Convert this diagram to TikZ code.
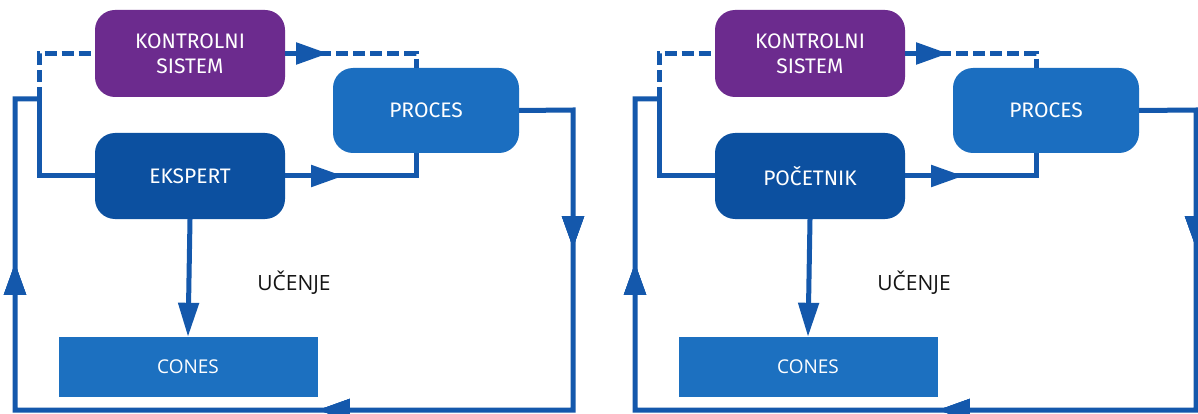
\documentclass[tikz,border=0pt]{standalone}
\usepackage{fontspec}
\setmainfont{Open Sans}
\newfontfamily\boxfont{Fira Sans}
\usetikzlibrary{arrows.meta,decorations.markings,calc}
\definecolor{kpurple}{RGB}{108,43,142}
\definecolor{kdark}{RGB}{12,80,160}
\definecolor{kproc}{RGB}{27,110,192}
\definecolor{kcones}{RGB}{28,112,192}
\definecolor{kline}{RGB}{20,88,172}
\definecolor{ktext}{RGB}{20,20,20}
\tikzset{
  rbox/.style={rounded corners=20pt, minimum width=190pt, minimum height=87pt, text=white,
    font=\boxfont\fontsize{21}{25}\selectfont, align=center, inner sep=0pt},
  sqbox/.style={fill=kcones, minimum width=259pt, minimum height=60pt, text=white,
    font=\fontsize{19}{22}\selectfont, inner sep=0pt},
  lbl/.style={text=ktext, font=\fontsize{21}{24}\selectfont, inner sep=0pt},
  conn/.style={line width=5pt, draw=kline, line join=miter},
  dsh/.style={conn, dash pattern=on 12pt off 5pt},
  tip/.style={decoration={markings, mark=at position #1 with {\arrow[kline]{Triangle[length=32pt,width=21pt]}}}, postaction=decorate},
  endtip/.style={-{Triangle[length=34pt,width=20pt]}}
}
\begin{document}
\begin{tikzpicture}[x=1pt,y=-1pt]
\useasboundingbox (0,0) rectangle (1198,414);
\fill[white] (0,0) rectangle (1198,414);
\clip (0,0) rectangle (1198,414);
% ---------- left panel ----------
\node[rbox, fill=kpurple] (ks1) at (190,53.5) {KONTROLNI\\SISTEM};
\node[rbox, fill=kproc, minimum width=186pt, minimum height=85pt] (pr1) at (426,110.5) {PROCES};
\node[rbox, fill=kdark, minimum height=86pt] (ek1) at (190,176) {EKSPERT};
\node[sqbox] (cn1) at (188,367) {CONES};
\node[lbl] (uc1) at (294,283) {UČENJE};
\coordinate (pt1) at (416,68);
\coordinate (pb1) at (416,153);
\coordinate (r1) at (573,110);
\coordinate (rb1) at (573,410);
\coordinate (lb1) at (15,410);
\coordinate (lt1) at (15,99);
\coordinate (j1) at (39,99);
\draw[dsh, tip=43pt] (ks1.east) -| (pt1);
\draw[conn, tip=58pt] (ek1.east) -| (pb1);
\draw[conn, tip=192pt, tip=609pt, tip=1059pt] (pr1.east) -- (r1) -- (rb1) -- (lb1) -- (lt1) -- (j1);
\draw[dsh] (j1) |- (ks1.west);
\draw[conn] (j1) |- (ek1.west);
\draw[conn, endtip] (ek1.south) -- (cn1.north);
% ---------- right panel ----------
\node[rbox, fill=kpurple] (ks2) at (810,53.5) {KONTROLNI\\SISTEM};
\node[rbox, fill=kproc, minimum width=186pt, minimum height=85pt] (pr2) at (1046,110.5) {PROCES};
\node[rbox, fill=kdark, minimum height=86pt] (ek2) at (810,176) {POČETNIK};
\node[sqbox] (cn2) at (808,367) {CONES};
\node[lbl] (uc2) at (914,283) {UČENJE};
\coordinate (pt2) at (1036,68);
\coordinate (pb2) at (1036,153);
\coordinate (r2) at (1196,110);
\coordinate (rb2) at (1196,410);
\coordinate (lb2) at (635,410);
\coordinate (lt2) at (635,99);
\coordinate (j2) at (659,99);
\draw[dsh, tip=43pt] (ks2.east) -| (pt2);
\draw[conn, tip=58pt] (ek2.east) -| (pb2);
\draw[conn, tip=195pt, tip=615pt, tip=1065pt] (pr2.east) -- (r2) -- (rb2) -- (lb2) -- (lt2) -- (j2);
\draw[dsh] (j2) |- (ks2.west);
\draw[conn] (j2) |- (ek2.west);
\draw[conn, endtip] (ek2.south) -- (cn2.north);
\end{tikzpicture}
\end{document}
